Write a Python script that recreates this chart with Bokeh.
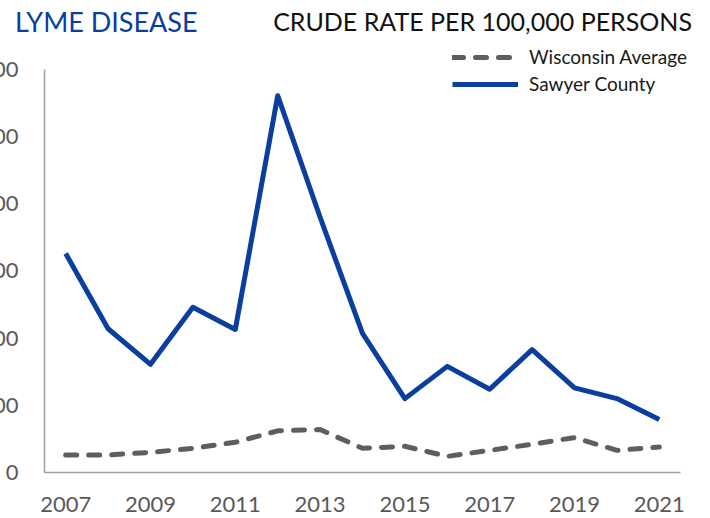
from bokeh.plotting import figure
from bokeh.layouts import column
from bokeh.models import Range1d, FixedTicker, Legend, LegendItem, Div
from bokeh.embed import file_html
from bokeh.resources import INLINE

years = list(range(2007, 2022))
sawyer = [326, 214, 161, 246, 213, 561, 380, 207, 110, 158, 124, 183, 126, 110, 79]
wisconsin = [26, 26, 30, 36, 45, 62, 64, 36, 39, 24, 33, 42, 52, 33, 38]
x_ticks = [2007, 2009, 2011, 2013, 2015, 2017, 2019, 2021]
y_ticks = [0, 100, 200, 300, 400, 500, 600]
title_left = "LYME DISEASE"
title_right = "CRUDE RATE PER 100,000 PERSONS"

BLUE = "#0a3e9f"
GRAY = "#615d5d"
FONT = "Lato"
W_LEFT = 80
FRAME_W = 656
TOTAL_W = W_LEFT + FRAME_W

header = Div(
    text=(f'<div style="position:relative;width:{TOTAL_W}px;height:40px;font-family:Lato;">'
          f'<span style="position:absolute;left:51px;top:8px;font-size:27px;line-height:27px;'
          f'color:{BLUE};white-space:nowrap;">{title_left}</span>'
          f'<span style="position:absolute;right:8px;top:9px;font-size:25px;line-height:25px;'
          f'color:#111111;white-space:nowrap;">{title_right}</span></div>'),
    width=TOTAL_W, height=40, margin=0)

p = figure(frame_width=FRAME_W, frame_height=432, min_border_left=W_LEFT, min_border_right=0,
           min_border_top=0, min_border_bottom=0, title=None,
           x_range=Range1d(2006.5, 2006.5 + FRAME_W / 42.4), y_range=Range1d(0, 432 / 0.67167),
           toolbar_location=None, output_backend="svg")
p.outline_line_color = None
p.xgrid.grid_line_color = None
p.ygrid.grid_line_color = None

for ax in (p.xaxis[0], p.yaxis[0]):
    ax.axis_line_color = "#a0a0a0"
    ax.axis_line_width = 1.5
    ax.major_tick_line_color = None
    ax.minor_tick_line_color = None
    ax.major_label_text_font = FONT
    ax.major_label_text_font_size = "22px"
    ax.major_label_text_color = "#595959"
p.xaxis.ticker = FixedTicker(ticks=x_ticks)
p.yaxis.ticker = FixedTicker(ticks=y_ticks)
p.xaxis.bounds = (2006.5, 2021.5)
p.yaxis.bounds = (0, 600)
p.xaxis.major_label_standoff = 18
p.yaxis.major_label_standoff = 20

r_wi = p.line(years, wisconsin, line_color=GRAY, line_width=5, line_dash="11 12",
              line_cap="round", line_join="round")
r_sc = p.line(years, sawyer, line_color=BLUE, line_width=5, line_join="round")

legend = Legend(items=[LegendItem(label="Wisconsin Average", renderers=[r_wi]),
                       LegendItem(label="Sawyer County", renderers=[r_sc])],
                location=(408, 377), padding=0, margin=0, spacing=4,
                glyph_width=66, glyph_height=20, label_height=20, label_standoff=11,
                label_text_font=FONT, label_text_font_size="19px",
                label_text_color="#1a1a1a", border_line_color=None,
                background_fill_alpha=0)
p.add_layout(legend, "center")

layout = column(header, p, spacing=0)
layout.styles = {"margin-left": "-36px", "margin-bottom": "-30px"}

open("out.html", "w").write(file_html(layout, INLINE))
